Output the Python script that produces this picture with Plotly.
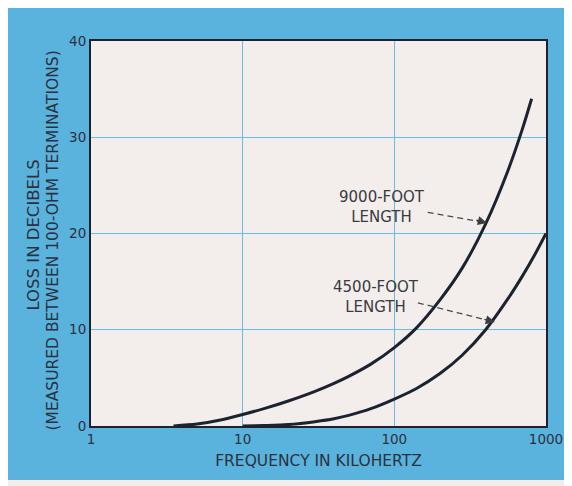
import math
import plotly.graph_objects as go

# ---- data ----
freq_9000 = [3.5, 5, 7, 10, 14, 20, 30, 40, 50, 70, 100, 140, 200, 280, 400, 560, 700, 804]
loss_9000 = [0.0, 0.2, 0.6, 1.2, 1.83, 2.6, 3.6, 4.43, 5.16, 6.43, 8.15, 10.2, 13.1, 16.4, 21.0, 26.5, 30.9, 34.0]

freq_4500 = [10, 14, 20, 30, 40, 50, 70, 100, 140, 200, 280, 400, 560, 700, 850, 1000]
loss_4500 = [0.0, 0.05, 0.15, 0.45, 0.75, 1.1, 1.8, 2.8, 3.9, 5.45, 7.35, 10.0, 13.2, 15.6, 17.9, 20.0]

x_ticks = [1, 10, 100, 1000]
x_tick_text = ["1", "10", "100", "1000"]
y_ticks = [0, 10, 20, 30, 40]

label_9000 = "9000-FOOT<br>LENGTH"
label_4500 = "4500-FOOT<br>LENGTH"
arrow_9000_f = [166, 408]
arrow_9000_db = [22.2, 21.1]
arrow_4500_f = [143, 460]
arrow_4500_db = [12.8, 10.8]

BLUE = "#5ab3dc"
PALE = "#f3eeeb"
INK = "#1c2230"
TEXT = "#2b3140"
GRID = "#6fbbe0"
FONT = "DejaVu Sans"

# The page body adds an 8px offset; the figure fills the rest of the window.
W, H = 564, 478
L, R, T, B = 83, 26, 33, 60
PW, PH = W - L - R, H - T - B

fig = go.Figure()
for fx, ly in [(freq_9000, loss_9000), (freq_4500, loss_4500)]:
    fig.add_trace(go.Scatter(x=fx, y=ly, mode="lines",
                             line=dict(color=INK, width=3, shape="spline", smoothing=0.8),
                             hoverinfo="skip", showlegend=False))
# dashed arrow shafts
for fx, dy in [(arrow_9000_f, arrow_9000_db), (arrow_4500_f, arrow_4500_db)]:
    fig.add_trace(go.Scatter(x=fx, y=dy, mode="lines",
                             line=dict(color="#4a4a50", width=1.3, dash="6px,4px"),
                             hoverinfo="skip", showlegend=False))
for fx, dy in [(arrow_9000_f, arrow_9000_db), (arrow_4500_f, arrow_4500_db)]:
    fig.add_annotation(x=math.log10(fx[1]), y=dy[1], xref="x", yref="y",
                       ax=-12, ay=-3, showarrow=True, arrowhead=2, arrowsize=1.3,
                       arrowwidth=1.4, arrowcolor="#3a3a40", text="")

fig.add_annotation(x=1.92, y=22.75, xref="x", yref="y", text=label_9000,
                   showarrow=False, font=dict(family=FONT, size=15, color="#3a3a40"))
fig.add_annotation(x=1.88, y=13.4, xref="x", yref="y", text=label_4500,
                   showarrow=False, font=dict(family=FONT, size=15, color="#3a3a40"))

# y-axis title (two lines)
fig.add_annotation(x=(25 - L) / PW, y=(PH + T - 227.5) / PH, xref="paper", yref="paper",
                   textangle=-90, xanchor="center", yanchor="middle",
                   text="LOSS IN DECIBELS", showarrow=False,
                   font=dict(family=FONT, size=16.5, color=TEXT))
fig.add_annotation(x=(44 - L) / PW, y=(PH + T - 232.5) / PH, xref="paper", yref="paper",
                   textangle=-90, xanchor="center", yanchor="middle",
                   text="(MEASURED BETWEEN 100-OHM TERMINATIONS)", showarrow=False,
                   font=dict(family=FONT, size=15.5, color=TEXT))

# pale strip along the bottom of the page
fig.add_shape(type="rect", xref="paper", yref="paper",
              x0=-L / PW, x1=(W - L) / PW,
              y0=(PH - (H - T)) / PH, y1=(PH - (472 - T)) / PH,
              fillcolor=PALE, line=dict(width=0), layer="below")

fig.update_xaxes(type="log", range=[0, 3], tickvals=x_ticks, ticktext=x_tick_text,
                 showgrid=True, gridcolor=GRID, gridwidth=1,
                 showline=True, linecolor=INK, linewidth=2, mirror=True,
                 ticks="", zeroline=False,
                 tickfont=dict(family=FONT, size=13.5, color=TEXT),
                 title=dict(text="FREQUENCY IN KILOHERTZ", standoff=9,
                            font=dict(family=FONT, size=15.5, color=TEXT)))
fig.update_yaxes(range=[0, 40], tickvals=y_ticks,
                 showgrid=True, gridcolor=GRID, gridwidth=1,
                 showline=True, linecolor=INK, linewidth=2, mirror=True,
                 ticks="", zeroline=False,
                 tickfont=dict(family=FONT, size=13.5, color=TEXT))

fig.update_layout(width=W, height=H,
                  margin=dict(l=L, r=R, t=T, b=B, autoexpand=False),
                  paper_bgcolor=BLUE, plot_bgcolor=PALE,
                  font=dict(family=FONT, color=TEXT))

fig.write_html("out.html")
